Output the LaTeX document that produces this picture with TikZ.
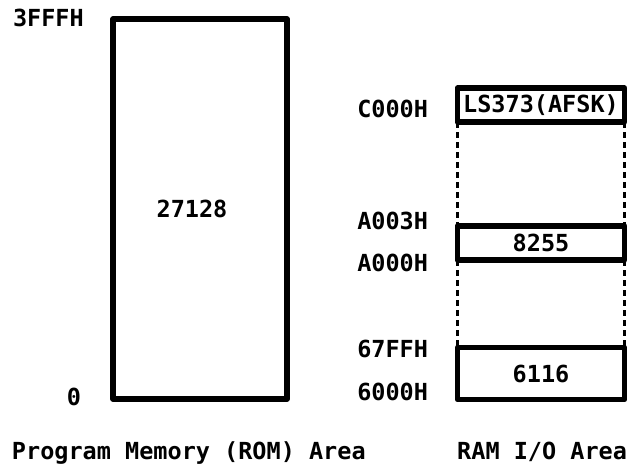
\documentclass[tikz,border=0pt]{standalone}
\usepackage{fontspec}
\setmainfont{DejaVu Sans Mono}
\begin{document}
\begin{tikzpicture}[x=1pt,y=-1pt,
  membox/.style={draw,line width=5.5pt,rectangle,inner sep=0pt,outer sep=0pt,line join=round},
  lbl/.style={font=\fontsize{23.5}{26}\selectfont\bfseries,inner sep=0pt,outer sep=0pt},
  dotted link/.style={line width=2.5pt,dash pattern=on 6pt off 4pt}]
\useasboundingbox (0,0) rectangle (633,471);
% ROM
\node[membox,lbl,minimum width=174pt,minimum height=380pt] (rom) at (200,209) {};
\node[lbl] (romtxt) at (192,209) {27128};
\node[lbl,anchor=base west] (top) at (13,27) {3FFFH};
\node[lbl,anchor=base] (zero) at (74,405) {0};
% RAM / IO
\node[membox,lbl,minimum width=167pt,minimum height=34pt] (ls) at (541,105) {LS373(AFSK)};
\node[membox,lbl,minimum width=167pt,minimum height=34pt] (ppi) at (541,243) {8255};
\node[membox,lbl,minimum width=167pt,minimum height=52pt] (ram) at (541,373.5) {6116};
\draw[dotted link] (ls.south west) -- (ppi.north west);
\draw[dotted link] (ls.south east) -- (ppi.north east);
\draw[dotted link] (ppi.south west) -- (ram.north west);
\draw[dotted link] (ppi.south east) -- (ram.north east);
% address labels
\node[lbl,anchor=base east] (c000) at (428,117) {C000H};
\node[lbl,anchor=base east] (a003) at (428,229) {A003H};
\node[lbl,anchor=base east] (a000) at (428,271) {A000H};
\node[lbl,anchor=base east] (r67ff) at (428,357) {67FFH};
\node[lbl,anchor=base east] (r6000) at (428,400) {6000H};
% captions
\node[lbl,anchor=base west] (cap1) at (12,459) {Program Memory (ROM) Area};
\node[lbl,anchor=base east] (cap2) at (627,459) {RAM I/O Area};
\end{tikzpicture}
\end{document}
